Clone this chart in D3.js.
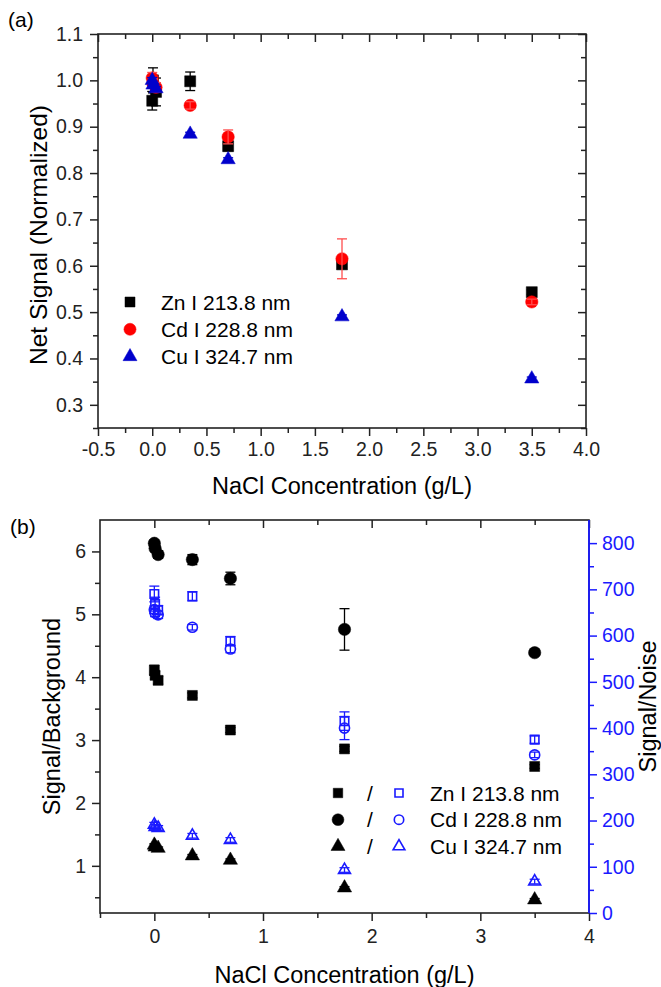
<!DOCTYPE html>
<html>
<head>
<meta charset="utf-8">
<script src="https://cdn.jsdelivr.net/npm/d3@7"></script>
<style>
  body { margin: 0; background: #fff; }
  svg { font-family: "Liberation Sans", Arial, sans-serif; }
</style>
</head>
<body>
<div id="chart"></div>
<script>
// NaCl concentrations (g/L), shared by every series
const CONC = [0, 0.007, 0.035, 0.35, 0.7, 1.75, 3.5];

// panel (a): normalized net signal
const ZN_NET = [0.956, 1.000, 0.975, 0.998, 0.858, 0.603, 0.543];
const ZN_NET_ERR = [0.020, 0.027, 0.030, 0.020, 0.010, 0.006, 0.005];
const CD_NET = [1.005, 0.993, 0.985, 0.946, 0.878, 0.615, 0.522];
const CD_NET_ERR = [0.012, 0.010, 0.010, 0.008, 0.015, 0.043, 0.006];
const CU_NET = [1.000, 0.990, 0.982, 0.884, 0.829, 0.490, 0.356];
const CU_NET_ERR = [0.006, 0.005, 0.005, 0.004, 0.004, 0.004, 0.004];

// panel (b): signal/background (left axis)
const ZN_SB = [4.11, 4.03, 3.95, 3.71, 3.16, 2.86, 2.58];
const ZN_SB_ERR = [0.08, 0.06, 0.06, 0.04, 0.04, 0.04, 0.03];
const CD_SB = [6.13, 6.05, 5.95, 5.87, 5.57, 4.76, 4.39];
const CD_SB_ERR = [0.05, 0.05, 0.06, 0.08, 0.10, 0.33, 0.04];
const CU_SB = [1.33, 1.30, 1.28, 1.16, 1.09, 0.65, 0.46];
const CU_SB_ERR = [0.02, 0.02, 0.02, 0.02, 0.02, 0.02, 0.02];

// panel (b): signal/noise (right axis)
const ZN_SN = [690, 668, 655, 685, 588, 415, 375];
const ZN_SN_ERR = [17, 15, 10, 10, 10, 20, 8];
const CD_SN = [656, 649, 645, 618, 571, 400, 342];
const CD_SN_ERR = [8, 8, 8, 6, 8, 25, 6];
const CU_SN = [191, 186, 184, 167, 158, 93, 68];
const CU_SN_ERR = [5, 5, 5, 5, 5, 5, 5];

const LABELS = ["Zn I 213.8 nm", "Cd I 228.8 nm", "Cu I 324.7 nm"];
const TICKS_A_X = [-0.5, 0, 0.5, 1, 1.5, 2, 2.5, 3, 3.5, 4];
const TICKS_A_Y = [0.3, 0.4, 0.5, 0.6, 0.7, 0.8, 0.9, 1.0, 1.1];
const TICKS_B_X = [0, 1, 2, 3, 4];
const TICKS_B_YL = [1, 2, 3, 4, 5, 6];
const TICKS_B_YR = [0, 100, 200, 300, 400, 500, 600, 700, 800];

const W = 661, H = 987;
const BLUE = "#0000cc";
const BLUE2 = "#1a1aff";
const TICK_FONT = 19.5;
const TITLE_FONT = 23.5;

const fmt1 = d => d.toFixed(1);
const fmt0 = d => String(d);

const svg = d3.select("#chart").append("svg")
  .attr("width", W)
  .attr("height", H);

const sym = {
  square: d3.symbolSquare,
  circle: d3.symbolCircle,
  triangle: d3.symbolTriangle,
};

function styleAxis(g, color = "#222") {
  g.select(".domain").remove();
  g.selectAll("line").attr("stroke", color).attr("stroke-width", 1.5);
  g.selectAll("text")
    .attr("fill", color)
    .style("font-size", TICK_FONT + "px")
    .style("font-family", "Liberation Sans, Arial, sans-serif");
}

function addAxis(g, axis, transform, color) {
  const ax = g.append("g").attr("transform", transform).call(axis);
  styleAxis(ax, color);
  return ax;
}

function drawFrame(g, x, y) {
  g.append("rect")
    .attr("x", x.range()[0])
    .attr("y", y.range()[1])
    .attr("width", x.range()[1] - x.range()[0])
    .attr("height", y.range()[0] - y.range()[1])
    .attr("fill", "none")
    .attr("stroke", "#222")
    .attr("stroke-width", 1.6);
}

function drawSeries(g, x, y, values, errs, opts) {
  const data = CONC.map((c, i) => ({ c, v: values[i], e: errs[i] }));
  const shape = d3.symbol().type(sym[opts.shape]).size(opts.size);
  g.append("g").selectAll("path")
    .data(data)
    .join("path")
    .attr("d", shape)
    .attr("transform", d => `translate(${x(d.c)},${y(d.v)})`)
    .attr("fill", opts.open ? "none" : opts.color)
    .attr("stroke", opts.color)
    .attr("stroke-width", opts.open ? 1.6 : 0.5);

  const eb = g.append("g")
    .attr("stroke", opts.errColor || opts.color)
    .attr("stroke-width", 1.3);
  const cap = 5;
  data.forEach(d => {
    const px = x(d.c), y0 = y(d.v - d.e), y1 = y(d.v + d.e);
    eb.append("line").attr("x1", px).attr("x2", px).attr("y1", y0).attr("y2", y1);
    eb.append("line").attr("x1", px - cap).attr("x2", px + cap).attr("y1", y0).attr("y2", y0);
    eb.append("line").attr("x1", px - cap).attr("x2", px + cap).attr("y1", y1).attr("y2", y1);
  });
}

function legendMarker(g, cx, cy, shape, size, color, open) {
  g.append("path")
    .attr("d", d3.symbol().type(sym[shape]).size(size))
    .attr("transform", `translate(${cx},${cy})`)
    .attr("fill", open ? "none" : color)
    .attr("stroke", color)
    .attr("stroke-width", open ? 1.6 : 0.5);
}

// ---------- panel (a) ----------
const xa = d3.scaleLinear().domain([-0.5, 4]).range([98, 586]);
const ya = d3.scaleLinear().domain([0.25, 1.1]).range([428, 34]);
const ga = svg.append("g");
const minorAX = [-0.25, 0.25, 0.75, 1.25, 1.75, 2.25, 2.75, 3.25, 3.75];
const minorAY = [0.25, 0.35, 0.45, 0.55, 0.65, 0.75, 0.85, 0.95, 1.05];

addAxis(ga, d3.axisBottom(xa).tickValues(TICKS_A_X).tickSize(8).tickPadding(6).tickFormat(fmt1),
  `translate(0,${ya.range()[0]})`);
addAxis(ga, d3.axisBottom(xa).tickValues(minorAX).tickSize(5).tickFormat(""),
  `translate(0,${ya.range()[0]})`);
addAxis(ga, d3.axisLeft(ya).tickValues(TICKS_A_Y).tickSize(8).tickPadding(7).tickFormat(fmt1),
  `translate(${xa.range()[0]},0)`);
addAxis(ga, d3.axisLeft(ya).tickValues(minorAY).tickSize(5).tickFormat(""),
  `translate(${xa.range()[0]},0)`);
// mirrored inner ticks on top and right
addAxis(ga, d3.axisTop(xa).tickValues(TICKS_A_X).tickSize(-8).tickFormat(""), `translate(0,${ya.range()[1]})`);
addAxis(ga, d3.axisTop(xa).tickValues(minorAX).tickSize(-5).tickFormat(""), `translate(0,${ya.range()[1]})`);
addAxis(ga, d3.axisRight(ya).tickValues(TICKS_A_Y).tickSize(-8).tickFormat(""), `translate(${xa.range()[1]},0)`);
addAxis(ga, d3.axisRight(ya).tickValues(minorAY).tickSize(-5).tickFormat(""), `translate(${xa.range()[1]},0)`);
drawFrame(ga, xa, ya);

drawSeries(ga, xa, ya, ZN_NET, ZN_NET_ERR, { shape: "square", size: 121, color: "#000" });
drawSeries(ga, xa, ya, CD_NET, CD_NET_ERR, { shape: "circle", size: 120, color: "#ff0000", errColor: "#ff4d4d" });
drawSeries(ga, xa, ya, CU_NET, CU_NET_ERR, { shape: "triangle", size: 88, color: BLUE });

ga.append("text").attr("x", 8).attr("y", 27).attr("font-size", 21).text("(a)");
ga.append("text")
  .attr("x", (xa.range()[0] + xa.range()[1]) / 2).attr("y", 494)
  .attr("text-anchor", "middle").attr("font-size", TITLE_FONT)
  .text("NaCl Concentration (g/L)");
ga.append("text")
  .attr("transform", `translate(47,235) rotate(-90)`)
  .attr("text-anchor", "middle").attr("font-size", 24.5)
  .text("Net Signal (Normalized)");

const legA = ga.append("g");
[["square", 100, "#000"], ["circle", 115, "#ff0000"], ["triangle", 85, BLUE]].forEach(([s, size, c], i) => {
  const cy = 302 + i * 27.3;
  legendMarker(legA, 130, cy, s, size, c, false);
  legA.append("text").attr("x", 161).attr("y", cy + 7.5).attr("font-size", 21).text(LABELS[i]);
});

// ---------- panel (b) ----------
const xb = d3.scaleLinear().domain([-0.5, 4]).range([100, 589]);
const yb = d3.scaleLinear().domain([0.25, 6.5]).range([913, 520]);
const yr = d3.scaleLinear().domain([0, 850]).range([913, 520]);
const gb = svg.append("g");

addAxis(gb, d3.axisBottom(xb).tickValues(TICKS_B_X).tickSize(8).tickPadding(8).tickFormat(fmt0), `translate(0,${yb.range()[0]})`);
addAxis(gb, d3.axisBottom(xb).tickValues([-0.5, 0.5, 1.5, 2.5, 3.5]).tickSize(5).tickFormat(""), `translate(0,${yb.range()[0]})`);
addAxis(gb, d3.axisTop(xb).tickValues(TICKS_B_X).tickSize(-8).tickFormat(""), `translate(0,${yb.range()[1]})`);
addAxis(gb, d3.axisTop(xb).tickValues([0.5, 1.5, 2.5, 3.5]).tickSize(-5).tickFormat(""), `translate(0,${yb.range()[1]})`);
addAxis(gb, d3.axisLeft(yb).tickValues(TICKS_B_YL).tickSize(8).tickPadding(6).tickFormat(fmt0), `translate(${xb.range()[0]},0)`);
addAxis(gb, d3.axisLeft(yb).tickValues([0.5, 1.5, 2.5, 3.5, 4.5, 5.5]).tickSize(5).tickFormat(""), `translate(${xb.range()[0]},0)`);
addAxis(gb, d3.axisRight(yr).tickValues(TICKS_B_YR).tickSize(8).tickPadding(5).tickFormat(fmt0), `translate(${xb.range()[1]},0)`, BLUE2);
addAxis(gb, d3.axisRight(yr).tickValues([50, 150, 250, 350, 450, 550, 650, 750]).tickSize(5).tickFormat(""), `translate(${xb.range()[1]},0)`, BLUE2);
drawFrame(gb, xb, yb);
gb.append("line")
  .attr("x1", xb.range()[1]).attr("x2", xb.range()[1])
  .attr("y1", yr.range()[0]).attr("y2", yr.range()[1])
  .attr("stroke", BLUE2).attr("stroke-width", 1.8);

drawSeries(gb, xb, yr, ZN_SN, ZN_SN_ERR, { shape: "square", size: 72, color: BLUE2, open: true });
drawSeries(gb, xb, yr, CD_SN, CD_SN_ERR, { shape: "circle", size: 80, color: BLUE2, open: true });
drawSeries(gb, xb, yr, CU_SN, CU_SN_ERR, { shape: "triangle", size: 62, color: BLUE2, open: true });
drawSeries(gb, xb, yb, ZN_SB, ZN_SB_ERR, { shape: "square", size: 100, color: "#000" });
drawSeries(gb, xb, yb, CD_SB, CD_SB_ERR, { shape: "circle", size: 120, color: "#000" });
drawSeries(gb, xb, yb, CU_SB, CU_SB_ERR, { shape: "triangle", size: 88, color: "#000" });

gb.append("text").attr("x", 10).attr("y", 534).attr("font-size", 21).text("(b)");
gb.append("text")
  .attr("x", (xb.range()[0] + xb.range()[1]) / 2).attr("y", 983)
  .attr("text-anchor", "middle").attr("font-size", TITLE_FONT)
  .text("NaCl Concentration (g/L)");
gb.append("text")
  .attr("transform", `translate(60,${(yb.range()[0] + yb.range()[1]) / 2}) rotate(-90)`)
  .attr("text-anchor", "middle").attr("font-size", TITLE_FONT)
  .text("Signal/Background");
gb.append("text")
  .attr("transform", `translate(656,${(yb.range()[0] + yb.range()[1]) / 2 - 10}) rotate(-90)`)
  .attr("text-anchor", "middle").attr("font-size", TITLE_FONT)
  .text("Signal/Noise");

const legB = gb.append("g");
[["square", 90, 64], ["circle", 110, 70], ["triangle", 85, 60]].forEach(([s, size, openSize], i) => {
  const cy = 793 + i * 26.7;
  legendMarker(legB, 338, cy, s, size, "#000", false);
  legB.append("text").attr("x", 370).attr("y", cy + 7.5).attr("text-anchor", "middle")
    .attr("font-size", 21).text("/");
  legendMarker(legB, 399, cy, s, openSize, BLUE2, true);
  legB.append("text").attr("x", 430).attr("y", cy + 7.5).attr("font-size", 21).text(LABELS[i]);
});
</script>
</body>
</html>
